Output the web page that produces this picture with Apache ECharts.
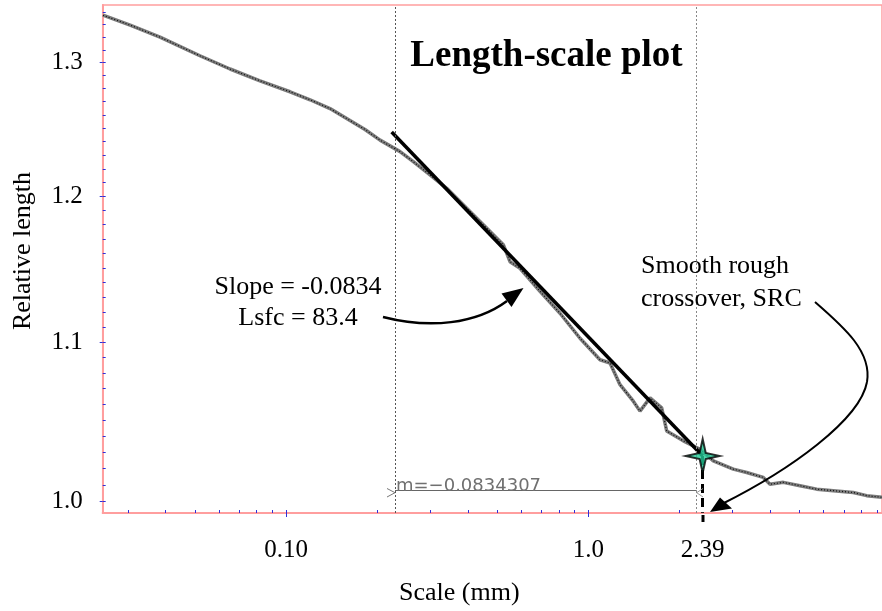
<!DOCTYPE html>
<html><head><meta charset="utf-8">
<script src="https://cdn.jsdelivr.net/npm/echarts@6/dist/echarts.min.js"></script>
<style>html,body{margin:0;padding:0;background:#fff}#c{width:882px;height:611px}</style>
</head><body><div id="c"></div>
<script>
// ---- data ----
const scaleMm = [0.0248,0.0305,0.0383,0.0519,0.0653,0.0820,0.1031,0.1201,0.1398,0.1628,0.1825,0.2047,0.2383,0.2637,0.2995,0.3401,0.3961,0.4383,0.5234,0.5508,0.5942,0.6921,0.8060,0.9387,1.0932,1.1798,1.2733,1.4088,1.4828,1.6002,1.7490,1.8168,2.0622,2.3418,2.5918,3.0174,3.3419,3.7917,3.9912,4.4171,5.0154,5.6950,6.4647,7.5249,8.3349,9.3666];
const relLength = [1.3374,1.3295,1.3200,1.3054,1.2951,1.2860,1.2776,1.2715,1.2648,1.2558,1.2491,1.2412,1.2327,1.2253,1.2156,1.2060,1.1917,1.1823,1.1660,1.1542,1.1496,1.1340,1.1192,1.1026,1.0885,1.0864,1.0724,1.0619,1.0556,1.0640,1.0577,1.0432,1.0370,1.0318,1.0247,1.0196,1.0176,1.0146,1.0105,1.0116,1.0096,1.0075,1.0066,1.0055,1.0036,1.0026];
const fitScale = [0.2236, 2.39];
const fitLength = [1.2473, 1.0277];
const srcPoint = [2.39, 1.0277];
const fitRange = [0.2294, 2.284];
const dimLevel = 1.00692;
const xLabelValues = [0.1, 1, 2.39];
const xLabelTexts = ['0.10', '1.0', '2.39'];
const xMajorTicks = [0.1, 1];
const xMinorTicks = [0.03,0.04,0.05,0.06,0.07,0.08,0.09,0.1,0.2,0.3,0.4,0.5,0.6,0.7,0.8,0.9,1,2,3,4,5,6,7,8,9];
const yLabelValues = [1.0, 1.1, 1.2, 1.3];
const yLabelTexts = ['1.0', '1.1', '1.2', '1.3'];
const yMinorTicks = [1.00,1.01,1.02,1.03,1.04,1.05,1.06,1.07,1.08,1.09,1.10,1.11,1.12,1.13,1.14,1.15,1.16,1.17,1.18,1.19,1.20,1.21,1.22,1.23,1.24,1.25,1.26,1.27,1.28,1.29,1.30,1.31,1.32,1.33,1.34];
const xRange = [0.02475, 9.367];
const yRange = [0.99324, 1.3456];

const curve = scaleMm.map((x, i) => [x, relLength[i]]);
const fit = fitScale.map((x, i) => [x, fitLength[i]]);

const serif = '"Liberation Serif", "Times New Roman", serif';
const pink = '#ff9e9e';
const tickBlue = '#3030d8';

function pick(vals, texts) {
  return function (v) {
    for (let i = 0; i < vals.length; i++) {
      if (Math.abs(Math.log10(v) - Math.log10(vals[i])) < 1e-6) return texts[i];
    }
    return '';
  };
}

const chart = echarts.init(document.getElementById('c'), null, {renderer: 'canvas'});
chart.setOption({
  animation: false,
  backgroundColor: '#fff',
  grid: {left: 102.7, right: -2, top: 5, bottom: 95.3, show: true, borderColor: pink, borderWidth: 1.5},
  xAxis: [{
    type: 'log', logBase: 10, min: xRange[0], max: xRange[1],
    name: 'Scale (mm)', nameLocation: 'middle', nameGap: 67,
    nameTextStyle: {fontFamily: serif, fontSize: 26, color: '#000', padding: [0, 66, 0, 0]},
    axisLine: {show: true, onZero: false, lineStyle: {color: pink, width: 2}},
    axisTick: {show: true, inside: false, length: 4, customValues: xMajorTicks, lineStyle: {color: tickBlue, width: 1}},
    axisLabel: {show: true, customValues: xLabelValues, formatter: pick(xLabelValues, xLabelTexts), margin: 25,
      fontFamily: serif, fontSize: 25, color: '#000'},
    splitLine: {show: false}, minorTick: {show: false}
  }, {
    type: 'log', logBase: 10, min: xRange[0], max: xRange[1], position: 'bottom',
    axisLine: {show: false},
    axisTick: {show: true, inside: true, length: 3, customValues: xMinorTicks, lineStyle: {color: tickBlue, width: 1}},
    axisLabel: {show: false}, splitLine: {show: false}
  }],
  yAxis: [{
    type: 'log', logBase: 10, min: yRange[0], max: yRange[1],
    name: 'Relative length', nameLocation: 'middle', nameGap: 67, nameRotate: 90,
    nameTextStyle: {fontFamily: serif, fontSize: 26, color: '#000', padding: [0, 0, 0, 16]},
    axisLine: {show: true, onZero: false, lineStyle: {color: pink, width: 2}},
    axisTick: {show: true, inside: false, length: 3, customValues: yLabelValues, lineStyle: {color: tickBlue, width: 1}},
    axisLabel: {show: true, customValues: yLabelValues, formatter: pick(yLabelValues, yLabelTexts), margin: 20,
      fontFamily: serif, fontSize: 25, color: '#000', padding: [7, 0, 0, 0]},
    splitLine: {show: false}
  }, {
    type: 'log', logBase: 10, min: yRange[0], max: yRange[1], position: 'left',
    axisLine: {show: false},
    axisTick: {show: true, inside: true, length: 3, customValues: yMinorTicks, lineStyle: {color: tickBlue, width: 1}},
    axisLabel: {show: false}, splitLine: {show: false}
  }],
  series: [
    {
      type: 'line', data: curve, showSymbol: false, silent: true, z: 2,
      lineStyle: {color: '#7c7c7c', width: 3.5},
      markLine: {
        silent: true, symbol: ['none', 'none'], label: {show: false}, animation: false,
        data: [
          {xAxis: fitRange[0], lineStyle: {type: [2, 2], color: '#555', width: 1}},
          {xAxis: fitRange[1], lineStyle: {type: [2, 2], color: '#888', width: 1}},
          [{coord: [fitRange[0], dimLevel], lineStyle: {type: 'solid', color: '#666', width: 1}},
           {coord: [fitRange[1], dimLevel]}]
        ]
      }
    },
    {
      type: 'line', data: curve, showSymbol: false, silent: true, z: 3,
      lineStyle: {color: '#111', width: 1.2, type: [1, 2]}
    },
    {
      type: 'line', data: fit, showSymbol: false, silent: true, z: 4,
      lineStyle: {color: '#000', width: 3.5}
    },
    {
      type: 'scatter', data: [srcPoint], silent: true, z: 6, clip: false,
      symbol: 'path://M50,0 L59,41 L100,50 L59,59 L50,100 L41,59 L0,50 L41,41 Z',
      symbolSize: [34, 34],
      itemStyle: {color: '#22c996', borderColor: '#000', borderWidth: 2},
      markLine: {
        silent: true, symbol: ['none', 'none'], label: {show: false}, animation: false,
        lineStyle: {type: [9, 5], color: '#000', width: 3},
        data: [[{coord: srcPoint}, {coord: [srcPoint[0], 0.9934]}]]
      }
    }
  ],
  graphic: [
    {type: 'text', z: 10, style: {text: 'Length-scale plot', x: 546.5, y: 56, font: 'bold 37px ' + serif, fill: '#000', align: 'center', verticalAlign: 'middle', textAlign: 'center', textVerticalAlign: 'middle'}},
    {type: 'text', z: 10, style: {text: 'Slope = -0.0834', x: 298, y: 287, font: '26px ' + serif, fill: '#000', align: 'center', verticalAlign: 'middle', textAlign: 'center', textVerticalAlign: 'middle'}},
    {type: 'text', z: 10, style: {text: 'Lsfc = 83.4', x: 298, y: 318, font: '26px ' + serif, fill: '#000', align: 'center', verticalAlign: 'middle', textAlign: 'center', textVerticalAlign: 'middle'}},
    {type: 'text', z: 10, style: {text: 'Smooth rough', x: 641, y: 266, font: '26px ' + serif, fill: '#000', align: 'left', verticalAlign: 'middle', textAlign: 'left', textVerticalAlign: 'middle'}},
    {type: 'text', z: 10, style: {text: 'crossover, SRC', x: 641, y: 299, font: '26px ' + serif, fill: '#000', align: 'left', verticalAlign: 'middle', textAlign: 'left', textVerticalAlign: 'middle'}},
    {type: 'text', z: 10, style: {text: 'm=\u22120.0834307', x: 396, y: 486, font: '18px "DejaVu Sans"', fill: '#707070', align: 'left', verticalAlign: 'middle', textAlign: 'left', textVerticalAlign: 'middle'}},
    {type: 'polyline', z: 10, shape: {points: [[387, 488.5], [395, 492.7], [387, 497]]}, style: {stroke: '#777', lineWidth: 1, fill: null}},
    {type: 'polyline', z: 10, shape: {points: [[703, 488.5], [696.7, 492.7], [703, 497]]}, style: {stroke: '#999', lineWidth: 1, fill: null}},
    {type: 'line', z: 10, shape: {x1: 703, y1: 515, x2: 703, y2: 522}, style: {stroke: '#000', lineWidth: 3}},
    {type: 'bezierCurve', z: 10, shape: {x1: 383, y1: 317, cpx1: 430, cpy1: 329, cpx2: 476, cpy2: 324, x2: 507, y2: 301}, style: {stroke: '#000', lineWidth: 2.5, fill: null}},
    {type: 'polygon', z: 10, shape: {points: [[523.5, 288], [501.5, 293.5], [511.5, 307]]}, style: {fill: '#000'}},
    {type: 'bezierCurve', z: 10, shape: {x1: 815, y1: 302, cpx1: 845, cpy1: 328, cpx2: 872, cpy2: 352, x2: 867, y2: 382}, style: {stroke: '#000', lineWidth: 2, fill: null}},
    {type: 'bezierCurve', z: 10, shape: {x1: 867, y1: 382, cpx1: 860, cpy1: 420, cpx2: 790, cpy2: 470, x2: 722, y2: 504}, style: {stroke: '#000', lineWidth: 2, fill: null}},
    {type: 'polygon', z: 10, shape: {points: [[710, 512], [720, 497.5], [732, 508.5]]}, style: {fill: '#000'}}
  ]
});
</script>
</body></html>
